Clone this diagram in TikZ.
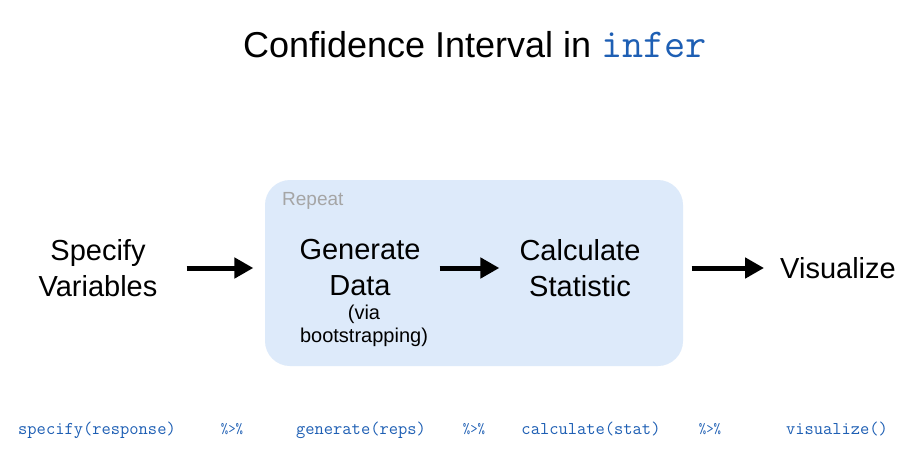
\documentclass[tikz,border=0pt]{standalone}
\usepackage{fontspec}
\setmainfont{Liberation Sans}
\usetikzlibrary{arrows.meta,positioning}
\definecolor{codeblue}{RGB}{30,95,180}
\definecolor{repeatfill}{RGB}{221,234,250}
\definecolor{repeatgray}{RGB}{165,165,165}
\tikzset{
  steplabel/.style={align=center,inner sep=0pt,
                    font=\fontsize{29}{36}\selectfont},
  sublabel/.style={align=center,inner sep=0pt,
                   font=\fontsize{20}{23}\selectfont},
  codelabel/.style={anchor=base,inner sep=0pt,text=codeblue,
                    font=\ttfamily\fontsize{18}{20}\selectfont},
  pipelabel/.style={codelabel,font=\ttfamily\fontsize{14.5}{18}\selectfont},
  flow/.style={-{Triangle[length=19pt,width=20pt]},line width=5pt},
  loopbox/.style={rectangle,rounded corners=25pt,fill=repeatfill,
                  minimum width=418pt,minimum height=186pt},
}

\begin{document}
\begin{tikzpicture}[x=1pt,y=-1pt]
  \useasboundingbox[fill=white] (0,0) rectangle (921,458);

  % title
  \node[font=\fontsize{36}{40}\selectfont] (title) at (475,45)
    {Confidence Interval in {\ttfamily\fontsize{41}{44}\selectfont\color{codeblue}infer}};

  % repeat region
  \node[loopbox] (loop) at (474,273) {};
  \node[anchor=west,inner sep=0pt,text=repeatgray,
        font=\fontsize{19}{23}\selectfont] (rep) at (282,201) {Repeat};

  % steps
  \node[steplabel] (spec) at (98,268) {Specify\\Variables};
  \node[steplabel] (gen) at (360,268) {Generate\\Data};
  \node[sublabel] (via) at (364,326) {(via\\bootstrapping)};
  \node[steplabel] (calc) at (580,268) {Calculate\\Statistic};
  \node[steplabel] (vis) at (838,268) {Visualize};

  \draw[flow,shorten <=29pt,shorten >=46pt] (spec.east) -- (gen.west);
  \draw[flow,shorten <=19pt,shorten >=20pt] (gen.east) -- (calc.west);
  \draw[flow,shorten <=51pt,shorten >=16pt] (calc.east) -- (vis.west);

  % code row
  \foreach \x/\name/\txt in {97/cspec/specify(response),
                             361/cgen/generate(reps),
                             591/ccalc/calculate(stat),
                             837/cvis/visualize()}{
    \node[codelabel] (\name) at (\x,434) {\txt};
  }
  \foreach \x/\name in {232/pipea,474/pipeb,710/pipec}{
    \node[pipelabel] (\name) at (\x,433) {\%>\%};
  }
\end{tikzpicture}
\end{document}
